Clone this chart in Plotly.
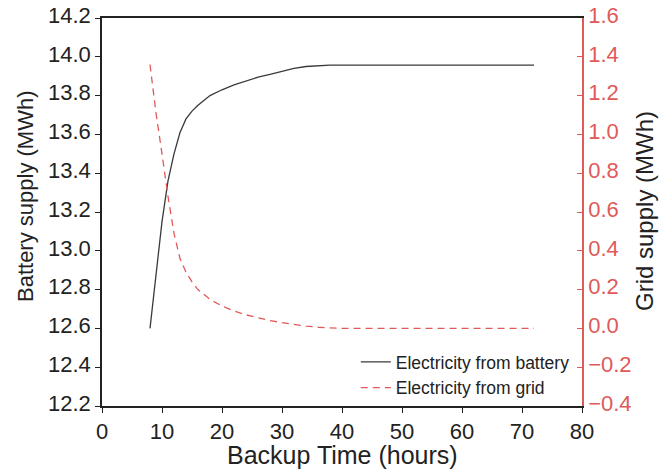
import plotly.graph_objects as go

# Data
hours = [8, 9, 10, 11, 12, 13, 14, 15, 16, 18, 20, 22, 24, 26, 28, 30, 32, 34, 36, 38,
         40, 44, 48, 52, 56, 60, 64, 68, 72]
battery_mwh = [12.60, 12.88, 13.15, 13.36, 13.50, 13.61, 13.68, 13.72, 13.75, 13.80,
               13.83, 13.855, 13.875, 13.895, 13.91, 13.925, 13.94, 13.95, 13.955, 13.957,
               13.957, 13.957, 13.957, 13.957, 13.957, 13.957, 13.957, 13.957, 13.957]
grid_mwh = [1.36, 1.11, 0.90, 0.68, 0.49, 0.36, 0.29, 0.24, 0.20, 0.15,
            0.115, 0.09, 0.07, 0.055, 0.04, 0.03, 0.02, 0.012, 0.006, 0.002,
            0, 0, 0, 0, 0, 0, 0, 0, 0]

x_ticks = [0, 10, 20, 30, 40, 50, 60, 70, 80]
series_names = ["Electricity from battery", "Electricity from grid"]

RED = "#e05a5a"
FONT = "Liberation Sans, Arial, sans-serif"

fig = go.Figure()
fig.add_trace(go.Scatter(x=hours, y=battery_mwh, mode="lines", name=series_names[0],
                         line=dict(color="#3a3a3a", width=1.3), yaxis="y"))
fig.add_trace(go.Scatter(x=hours, y=grid_mwh, mode="lines", name=series_names[1],
                         line=dict(color=RED, width=1.3, dash="7px,5px"), yaxis="y2"))

fig.update_layout(
    width=660, height=462,
    margin=dict(l=94, r=86, t=10, b=64),
    paper_bgcolor="white", plot_bgcolor="white",
    font=dict(family=FONT, size=22, color="#222"),
    showlegend=True,
    legend=dict(x=0.985, xanchor="right", y=0.0, yanchor="bottom",
                bgcolor="rgba(0,0,0,0)", font=dict(size=17.5, color="#222"),
                tracegroupgap=0, itemwidth=30),
    xaxis=dict(range=[0, 80], tickvals=x_ticks, showgrid=False, zeroline=False,
               automargin=False, ticklabeloverflow="allow",
               showline=True, linecolor="#222", linewidth=1.5, mirror=True,
               ticks="outside", ticklen=5, tickcolor="#222", tickwidth=1.3),
    yaxis=dict(range=[12.2, 14.2], dtick=0.2, tick0=12.2, tickformat=".1f",
               showgrid=False, zeroline=False, automargin=False,
               ticklabeloverflow="allow", ticklabelshift=-3,
               showline=True, linecolor="#222", linewidth=1.5,
               ticks="outside", ticklen=5, tickcolor="#222", tickwidth=1.3),
    yaxis2=dict(range=[-0.4, 1.6], dtick=0.2, tick0=-0.4, tickformat=".1f",
                overlaying="y", side="right", anchor="x",
                showgrid=False, zeroline=False, automargin=False,
                ticklabeloverflow="allow", ticklabelshift=-3,
                showline=True, linecolor=RED, linewidth=1.5,
                ticks="inside", ticklen=5, tickcolor=RED, tickwidth=1.3,
                tickfont=dict(color=RED)),
    annotations=[
        dict(text="Backup Time (hours)", xref="paper", yref="paper",
             x=0.5, y=(406 - 455) / 388, xanchor="center", yanchor="middle",
             showarrow=False, font=dict(size=25, color="#222")),
        dict(text="Battery supply (MWh)", textangle=-90, xref="paper", yref="paper",
             x=-77 / 480, y=(406 - 196) / 388, xanchor="center", yanchor="middle",
             showarrow=False, font=dict(size=22, color="#222")),
        dict(text="Grid supply (MWh)", textangle=-90, xref="paper", yref="paper",
             x=1 + 62 / 480, y=(406 - 211) / 388, xanchor="center", yanchor="middle",
             showarrow=False, font=dict(size=24, color="#222")),
    ],
)

fig.write_html("out.html")
